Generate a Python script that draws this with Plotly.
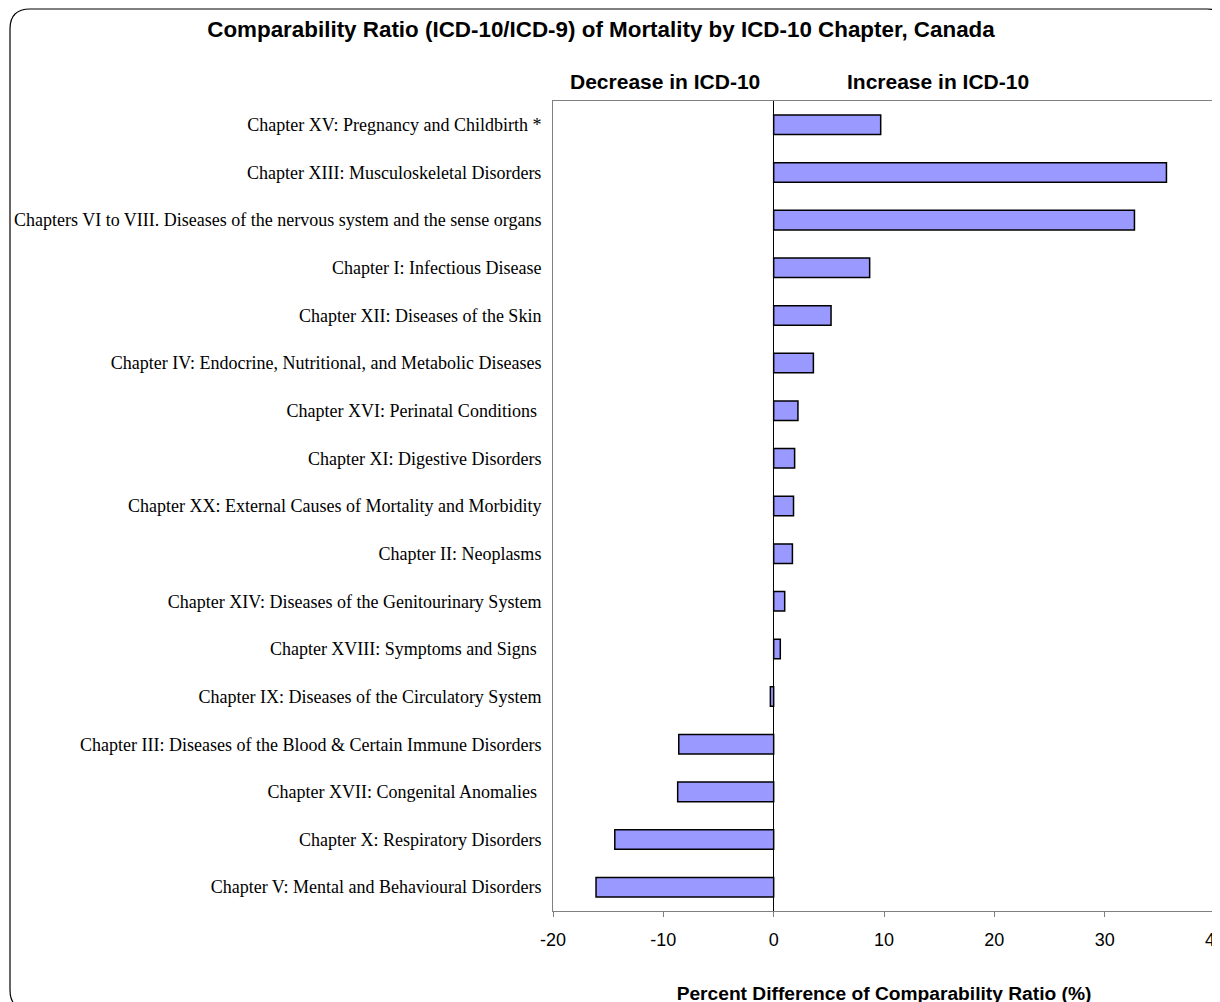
import plotly.graph_objects as go

# chapter labels, top to bottom
chapters = [
    "Chapter XV: Pregnancy and Childbirth *",
    "Chapter XIII: Musculoskeletal Disorders",
    "Chapters VI to VIII. Diseases of the nervous system and the sense organs",
    "Chapter I: Infectious Disease",
    "Chapter XII: Diseases of the Skin",
    "Chapter IV: Endocrine, Nutritional, and Metabolic Diseases",
    "Chapter XVI: Perinatal Conditions ",
    "Chapter XI: Digestive Disorders",
    "Chapter XX: External Causes of Mortality and Morbidity",
    "Chapter II: Neoplasms",
    "Chapter XIV: Diseases of the Genitourinary System",
    "Chapter XVIII: Symptoms and Signs ",
    "Chapter IX: Diseases of the Circulatory System",
    "Chapter III: Diseases of the Blood & Certain Immune Disorders",
    "Chapter XVII: Congenital Anomalies ",
    "Chapter X: Respiratory Disorders",
    "Chapter V: Mental and Behavioural Disorders",
]
pct_diff = [9.7, 35.6, 32.7, 8.7, 5.2, 3.6, 2.2, 1.9, 1.8, 1.7,
            1.0, 0.6, -0.3, -8.6, -8.7, -14.4, -16.1]

x_ticks = [-20, -10, 0, 10, 20, 30, 40]

# page puts the plot div 8px in from the top-left corner
OFF = 8
W, H = 1220, 1002
L, R, T, B = 553 - OFF, W - (1215 - OFF), 101 - OFF, H - (911 - OFF)
pw, ph = W - L - R, H - T - B

SANS = "Liberation Sans, Arial"
SERIF = "Liberation Serif, Times New Roman"


def px(x):
    # screen pixel -> paper x
    return (x - OFF - L) / pw


def py(y):
    # screen pixel -> paper y
    return (H - B - (y - OFF)) / ph


def rounded_rect(x0, y0, x1, y1, r):
    pts = [
        f"M {px(x0 + r)} {py(y0)}",
        f"L {px(x1 - r)} {py(y0)}",
        f"Q {px(x1)} {py(y0)} {px(x1)} {py(y0 + r)}",
        f"L {px(x1)} {py(y1 - r)}",
        f"Q {px(x1)} {py(y1)} {px(x1 - r)} {py(y1)}",
        f"L {px(x0 + r)} {py(y1)}",
        f"Q {px(x0)} {py(y1)} {px(x0)} {py(y1 - r)}",
        f"L {px(x0)} {py(y0 + r)}",
        f"Q {px(x0)} {py(y0)} {px(x0 + r)} {py(y0)}",
        "Z",
    ]
    return " ".join(pts)


fig = go.Figure()
fig.add_trace(go.Bar(
    x=pct_diff,
    y=chapters,
    orientation="h",
    marker=dict(color="#9999FF", line=dict(color="black", width=1.5)),
    width=0.41,
))

fig.update_layout(
    width=W, height=H,
    margin=dict(l=L, r=R, t=T, b=B, autoexpand=False),
    paper_bgcolor="white",
    plot_bgcolor="white",
    showlegend=False,
    title=dict(
        text="<b>Comparability Ratio (ICD-10/ICD-9) of Mortality by ICD-10 Chapter, Canada</b>",
        x=(601 - OFF) / W, xanchor="center",
        y=1 - (29 - OFF) / H, yanchor="middle",
        font=dict(family=SANS, size=22.4, color="black"),
    ),
    xaxis=dict(
        range=[-20, 40],
        tickvals=x_ticks,
        ticktext=[str(v) for v in x_ticks],
        ticks="outside", ticklen=5, tickcolor="#808080",
        showline=True, linecolor="#808080", linewidth=1, mirror=True,
        showgrid=False, automargin=False,
        zeroline=True, zerolinecolor="black", zerolinewidth=1,
        tickfont=dict(family=SANS, size=18, color="black"),
        ticklabelstandoff=7,
        title=dict(
            text="<b>Percent Difference of Comparability Ratio (%)</b>",
            font=dict(family=SANS, size=19.2, color="black"),
            standoff=37,
        ),
    ),
    yaxis=dict(
        autorange="reversed",
        showline=True, linecolor="#808080", linewidth=1, mirror=True,
        showgrid=False, automargin=False,
        ticks="", ticklabelstandoff=7,
        tickfont=dict(family=SERIF, size=18, color="black"),
    ),
    annotations=[
        dict(text="<b>Decrease in ICD-10</b>", x=px(665), y=py(82),
             xref="paper", yref="paper", xanchor="center", yanchor="middle",
             showarrow=False, font=dict(family=SANS, size=21, color="black")),
        dict(text="<b>Increase in ICD-10</b>", x=px(938), y=py(82),
             xref="paper", yref="paper", xanchor="center", yanchor="middle",
             showarrow=False, font=dict(family=SANS, size=21, color="black")),
    ],
    shapes=[
        dict(type="path", xref="paper", yref="paper",
             path=rounded_rect(10, 9, 1227, 1010, 20),
             line=dict(color="black", width=1.2), layer="below"),
    ],
)

fig.write_html("out.html")
